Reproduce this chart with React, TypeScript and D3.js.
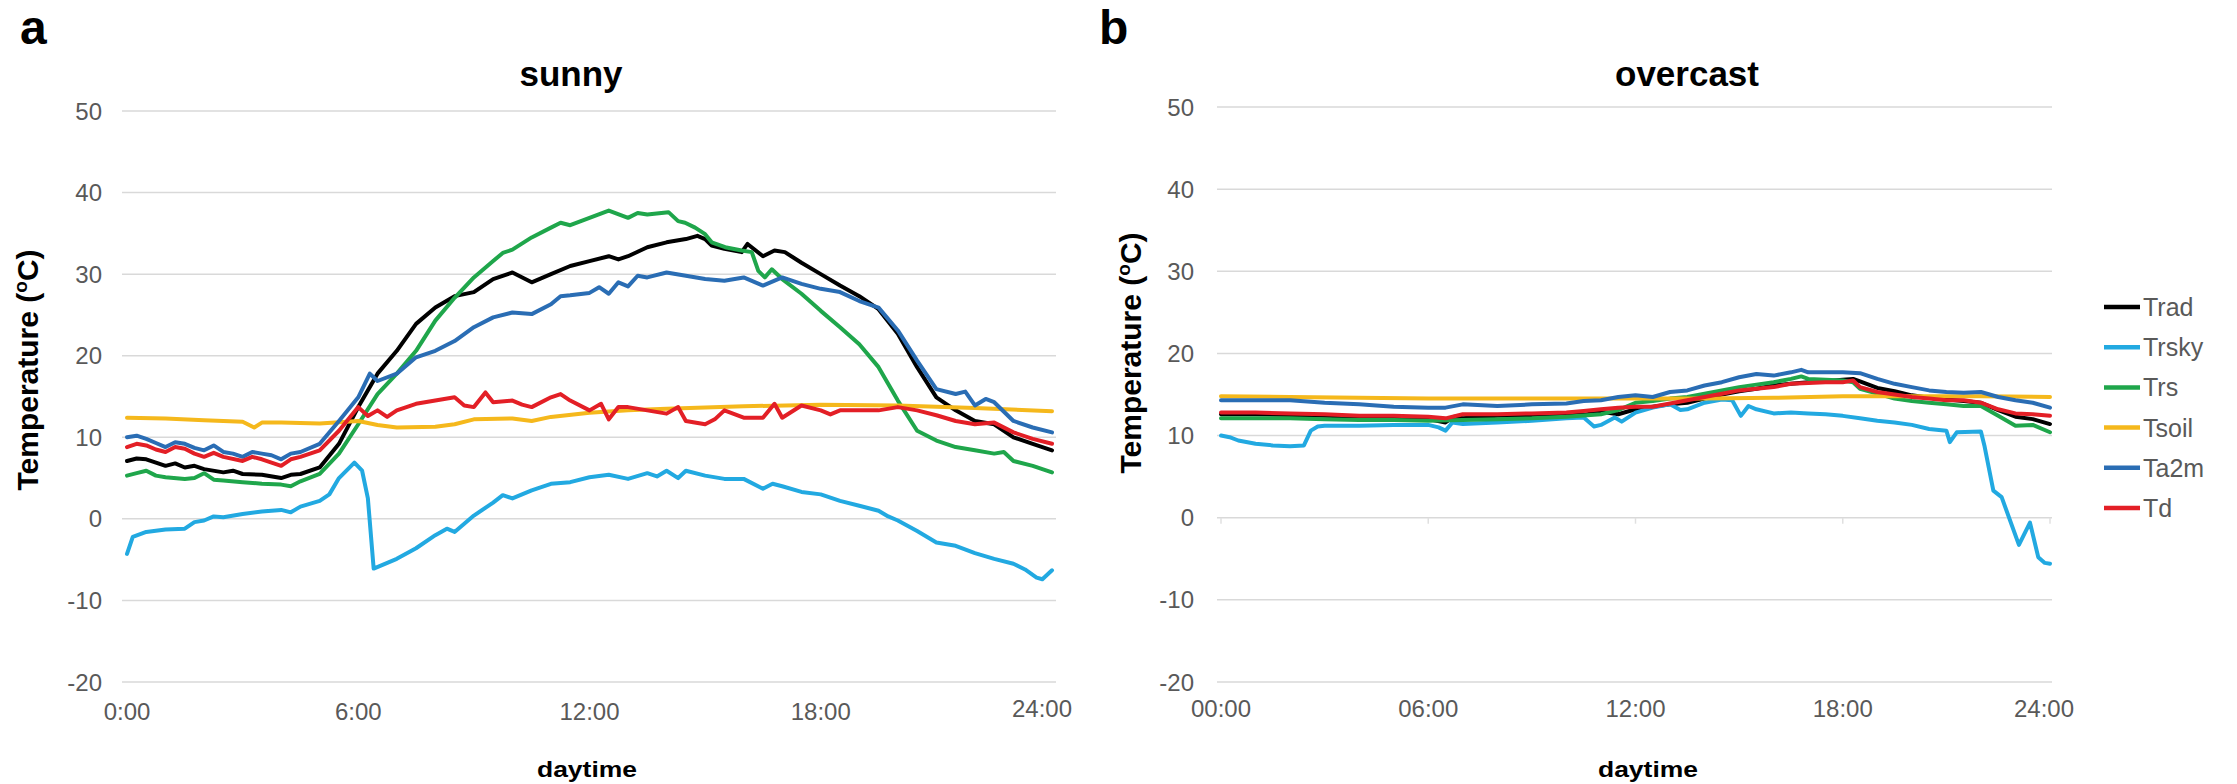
import React from 'react';
import * as d3 from 'd3';

type P = [number, number];

const SERIES = ['Trad', 'Trsky', 'Trs', 'Tsoil', 'Ta2m', 'Td'];
const COLORS = ['#000000', '#22a9e1', '#1fa64b', '#f5b81c', '#2a6db4', '#e31f26'];
const Y_TICKS = [-20, -10, 0, 10, 20, 30, 40, 50];
const X_TICK_HOURS = [0, 6, 12, 18, 24];
const X_LABELS_A = ['0:00', '6:00', '12:00', '18:00', '24:00'];
const X_LABELS_B = ['00:00', '06:00', '12:00', '18:00', '24:00'];

// ---- panel a: sunny ----
const sunnyTrad: P[] = [[0,7.1],[0.25,7.4],[0.5,7.3],[0.75,6.9],[1,6.5],[1.25,6.8],[1.5,6.3],[1.75,6.5],[2,6.1],[2.5,5.7],[2.75,5.9],[3,5.5],[3.5,5.4],[4,5.0],[4.25,5.4],[4.5,5.5],[5,6.3],[5.5,9.2],[6,13.7],[6.5,17.8],[7,20.6],[7.5,23.9],[8,25.9],[8.5,27.3],[9,27.8],[9.5,29.4],[10,30.2],[10.5,29.0],[11,30.0],[11.5,31.0],[12,31.6],[12.5,32.2],[12.75,31.8],[13,32.2],[13.5,33.3],[14,33.9],[14.5,34.3],[14.8,34.7],[15,34.3],[15.17,33.5],[15.5,33.1],[15.95,32.7],[16.1,33.7],[16.5,32.2],[16.8,32.9],[17.07,32.7],[17.5,31.4],[18,30.0],[18.5,28.6],[19,27.3],[19.5,25.7],[20,22.7],[20.5,18.6],[21,14.9],[21.5,13.3],[22,12.0],[22.5,11.6],[23,10.0],[23.5,9.2],[24,8.4]];
const sunnyTrsky: P[] = [[0,-4.3],[0.15,-2.2],[0.5,-1.6],[1,-1.3],[1.5,-1.2],[1.75,-0.4],[2,-0.2],[2.25,0.3],[2.5,0.2],[3,0.6],[3.5,0.9],[4,1.1],[4.25,0.8],[4.5,1.5],[5,2.2],[5.25,3.0],[5.5,5.0],[5.9,6.9],[6.1,5.9],[6.25,2.5],[6.4,-6.1],[7,-4.9],[7.5,-3.6],[8,-2.0],[8.3,-1.2],[8.5,-1.6],[9,0.4],[9.5,2.0],[9.75,2.9],[10,2.5],[10.5,3.5],[11,4.3],[11.5,4.5],[12,5.1],[12.5,5.4],[13,4.9],[13.5,5.6],[13.75,5.2],[14,5.9],[14.3,5.0],[14.5,5.9],[15,5.3],[15.5,4.9],[16,4.9],[16.5,3.7],[16.75,4.3],[17,4.0],[17.5,3.3],[18,3.0],[18.5,2.2],[19,1.6],[19.5,1.0],[19.75,0.3],[20,-0.2],[20.5,-1.5],[21,-2.9],[21.5,-3.3],[22,-4.2],[22.5,-4.9],[23,-5.5],[23.3,-6.2],[23.6,-7.2],[23.75,-7.4],[24,-6.3]];
const sunnyTrs: P[] = [[0,5.3],[0.25,5.6],[0.5,5.9],[0.75,5.3],[1,5.1],[1.5,4.9],[1.75,5.0],[2,5.6],[2.25,4.8],[2.5,4.7],[3,4.5],[3.5,4.3],[4,4.2],[4.25,4.0],[4.5,4.6],[5,5.5],[5.5,8.0],[6,11.6],[6.5,15.3],[7,17.8],[7.5,20.6],[8,24.3],[8.5,27.1],[9,29.6],[9.5,31.6],[9.75,32.6],[10,33.0],[10.5,34.5],[11,35.7],[11.25,36.3],[11.5,36.0],[12,36.9],[12.5,37.8],[13,36.9],[13.25,37.5],[13.5,37.3],[14.05,37.6],[14.3,36.5],[14.48,36.3],[14.74,35.7],[15,34.9],[15.17,33.9],[15.52,33.3],[15.95,32.9],[16.21,32.7],[16.38,30.4],[16.55,29.6],[16.73,30.6],[17,29.4],[17.5,27.6],[18,25.5],[18.5,23.5],[19,21.4],[19.5,18.6],[20,14.5],[20.5,10.8],[21,9.6],[21.5,8.8],[22,8.4],[22.5,8.0],[22.75,8.2],[23,7.1],[23.5,6.5],[24,5.7]];
const sunnyTsoil: P[] = [[0,12.4],[1,12.3],[2,12.1],[3,11.9],[3.3,11.2],[3.5,11.8],[4,11.8],[5,11.7],[6,12.0],[6.5,11.5],[7,11.2],[8,11.3],[8.5,11.6],[9,12.2],[10,12.3],[10.5,12.0],[11,12.5],[12,13.0],[13,13.3],[14,13.5],[16,13.8],[18,14.0],[20,13.9],[22,13.6],[24,13.2]];
const sunnyTa2m: P[] = [[0,10.0],[0.25,10.2],[0.5,9.8],[0.75,9.3],[1,8.8],[1.25,9.4],[1.5,9.2],[1.75,8.7],[2,8.4],[2.25,9.0],[2.5,8.2],[2.75,8.0],[3,7.6],[3.25,8.2],[3.5,8.0],[3.75,7.8],[4,7.3],[4.25,8.0],[4.5,8.2],[5,9.2],[5.5,12.0],[6,14.9],[6.3,17.8],[6.5,16.9],[7,17.8],[7.5,19.8],[8,20.6],[8.5,21.8],[9,23.5],[9.5,24.7],[10,25.3],[10.5,25.1],[11,26.3],[11.25,27.3],[11.5,27.4],[12,27.7],[12.25,28.4],[12.5,27.6],[12.75,29.0],[13,28.5],[13.25,29.8],[13.5,29.6],[14,30.2],[14.5,29.8],[15,29.4],[15.5,29.2],[16,29.6],[16.5,28.6],[17,29.6],[17.5,28.8],[18,28.2],[18.5,27.8],[19,26.7],[19.5,25.9],[20,23.1],[20.5,19.4],[21,15.9],[21.5,15.3],[21.75,15.6],[22,13.9],[22.28,14.7],[22.5,14.3],[23,12.0],[23.5,11.2],[24,10.6]];
const sunnyTd: P[] = [[0,8.8],[0.25,9.2],[0.5,9.0],[0.75,8.5],[1,8.2],[1.25,8.8],[1.5,8.6],[1.75,8.0],[2,7.6],[2.25,8.1],[2.5,7.6],[3,7.1],[3.25,7.6],[3.5,7.3],[4,6.5],[4.25,7.3],[4.5,7.6],[5,8.4],[5.5,10.8],[6,13.7],[6.25,12.6],[6.5,13.3],[6.75,12.5],[7,13.3],[7.5,14.1],[8,14.5],[8.5,14.9],[8.75,13.9],[9,13.7],[9.3,15.5],[9.5,14.3],[10,14.5],[10.25,14.0],[10.5,13.7],[11,14.9],[11.25,15.3],[11.5,14.5],[12,13.3],[12.3,14.1],[12.5,12.2],[12.75,13.7],[13,13.7],[13.5,13.3],[14,12.9],[14.3,13.7],[14.5,12.0],[15,11.6],[15.25,12.2],[15.5,13.3],[16,12.4],[16.5,12.4],[16.8,14.1],[17,12.4],[17.5,13.9],[18,13.3],[18.25,12.8],[18.5,13.3],[19,13.3],[19.5,13.3],[20,13.7],[20.5,13.3],[21,12.7],[21.5,12.0],[22,11.6],[22.5,11.8],[23,10.6],[23.5,9.8],[24,9.2]];

// ---- panel b: overcast ----
const ocTrad: P[] = [[0,12.6],[1,12.6],[2,12.5],[3,12.4],[4,12.3],[5,12.2],[6,12.0],[6.5,11.6],[6.75,12.3],[7,12.1],[8,12.4],[9,12.5],[10,12.6],[10.5,12.5],[11,12.9],[11.5,12.6],[12,13.2],[12.5,13.5],[13,13.8],[13.5,14.0],[14,14.5],[14.5,15.0],[15,15.4],[15.5,15.7],[16,16.1],[16.5,16.3],[17,16.5],[17.5,16.6],[18,16.8],[18.3,16.9],[18.5,16.6],[19,15.8],[19.5,15.4],[20,14.9],[20.5,14.6],[21,14.4],[21.5,14.2],[22,14.0],[22.5,13.1],[23,12.3],[23.5,12.0],[24,11.4]];
const ocTrsky: P[] = [[0,10.0],[0.25,9.8],[0.5,9.4],[1,9.0],[1.5,8.8],[2,8.7],[2.4,8.8],[2.6,10.6],[2.8,11.1],[3,11.2],[4,11.2],[5,11.3],[6,11.3],[6.3,11.0],[6.5,10.6],[6.7,11.6],[7,11.4],[8,11.6],[9,11.8],[10,12.1],[10.5,12.2],[10.8,11.1],[11,11.3],[11.4,12.2],[11.6,11.7],[12,12.8],[12.5,13.4],[13,13.8],[13.3,13.1],[13.5,13.2],[14,14.0],[14.5,14.4],[14.8,14.3],[15.05,12.4],[15.27,13.6],[15.5,13.2],[16,12.7],[16.5,12.8],[17,12.7],[17.5,12.6],[18,12.4],[18.5,12.1],[19,11.8],[19.5,11.6],[20,11.3],[20.5,10.8],[21,10.6],[21.1,9.2],[21.3,10.4],[22,10.5],[22.1,8.8],[22.36,3.3],[22.6,2.5],[23.1,-3.3],[23.42,-0.6],[23.66,-4.8],[23.85,-5.5],[24,-5.6]];
const ocTrs: P[] = [[0,12.1],[1,12.1],[2,12.1],[3,12.0],[4,11.9],[5,11.9],[6,11.8],[7,11.9],[8,12.0],[9,12.1],[10,12.3],[11,12.6],[11.5,13.1],[12,14.0],[12.5,14.2],[13,14.5],[13.5,14.7],[14,15.1],[14.5,15.5],[15,15.9],[15.5,16.2],[16,16.5],[16.5,16.9],[16.8,17.2],[17,16.9],[17.5,16.8],[18,16.7],[18.3,16.5],[18.5,15.7],[19,15.1],[19.5,14.5],[20,14.2],[20.5,14.0],[21,13.8],[21.5,13.6],[22,13.6],[22.5,12.4],[23,11.2],[23.5,11.3],[24,10.4]];
const ocTsoil: P[] = [[0,14.8],[2,14.7],[4,14.6],[6,14.5],[8,14.5],[10,14.5],[12,14.5],[14,14.5],[16,14.6],[18,14.8],[20,14.8],[22,14.8],[24,14.7]];
const ocTa2m: P[] = [[0,14.3],[1,14.3],[2,14.3],[3,14.0],[4,13.8],[5,13.5],[6,13.4],[6.5,13.4],[7,13.8],[8,13.6],[9,13.8],[10,13.9],[10.5,14.2],[11,14.3],[11.5,14.7],[12,14.9],[12.5,14.7],[13,15.3],[13.5,15.5],[14,16.1],[14.5,16.5],[15,17.1],[15.5,17.5],[16,17.3],[16.5,17.7],[16.8,18.0],[17,17.7],[17.5,17.7],[18,17.7],[18.5,17.6],[19,16.9],[19.5,16.3],[20,15.9],[20.5,15.5],[21,15.3],[21.5,15.2],[22,15.3],[22.5,14.7],[23,14.3],[23.5,14.0],[24,13.4]];
const ocTd: P[] = [[0,12.8],[1,12.8],[2,12.7],[3,12.6],[4,12.4],[5,12.4],[6,12.3],[6.5,12.1],[7,12.6],[8,12.6],[9,12.7],[10,12.8],[10.5,13.0],[11,13.2],[11.5,13.4],[12,13.5],[12.5,13.5],[13,13.9],[13.5,14.3],[14,14.7],[14.5,15.1],[15,15.5],[15.5,15.7],[16,15.9],[16.5,16.3],[17,16.4],[17.5,16.5],[18,16.5],[18.3,16.7],[18.5,15.9],[19,15.3],[19.5,15.0],[20,14.7],[20.5,14.5],[21,14.3],[21.5,14.3],[22,14.0],[22.5,13.2],[23,12.7],[23.5,12.6],[24,12.4]];

const SUNNY = [sunnyTrad, sunnyTrsky, sunnyTrs, sunnyTsoil, sunnyTa2m, sunnyTd];
const OVERCAST = [ocTrad, ocTrsky, ocTrs, ocTsoil, ocTa2m, ocTd];

const FONT = '"Liberation Sans", Arial, sans-serif';
const GRAY = '#595959';

interface PanelProps {
  letter: string;
  letterX: number;
  title: string;
  titleX: number;
  data: P[][];
  x0: number; x1: number;
  yTop: number; yBot: number;
  gridX0: number; gridX1: number;
  yLabelX: number;
  xLabels: string[];
  xLabelY: number;
  lastLabelDx: number;
  lastLabelDy: number;
  yTitleX: number; yTitleY: number;
  xTitleX: number;
  ticks: boolean;
}

function Panel(p: PanelProps) {
  const x = d3.scaleLinear().domain([0, 24]).range([p.x0, p.x1]);
  const y = d3.scaleLinear().domain([-20, 50]).range([p.yBot, p.yTop]);
  const line = d3.line<P>().x(d => x(d[0])).y(d => y(d[1]));
  return (
    <g>
      <text x={p.letterX} y={44} fontFamily={FONT} fontWeight="bold" fontSize={48} fill="#000">{p.letter}</text>
      <text x={p.titleX} y={86} textAnchor="middle" fontFamily={FONT} fontWeight="bold" fontSize={35} fill="#000">{p.title}</text>
      {Y_TICKS.map(t => (
        <g key={t}>
          <line x1={p.gridX0} x2={p.gridX1} y1={y(t)} y2={y(t)} stroke="#d9d9d9" strokeWidth={1.5} />
          <text x={p.yLabelX} y={y(t)} dy="0.36em" textAnchor="end" fontFamily={FONT} fontSize={24} fill={GRAY}>{t}</text>
        </g>
      ))}
      {p.ticks && X_TICK_HOURS.map(h => (
        <line key={'t' + h} x1={x(h)} x2={x(h)} y1={y(0)} y2={y(0) + 6} stroke="#e0e0e0" strokeWidth={1.5} />
      ))}
      {X_TICK_HOURS.map((h, i) => (
        <text key={'x' + h}
          x={x(h) + (i === X_TICK_HOURS.length - 1 ? p.lastLabelDx : 0)}
          y={p.xLabelY + (i === X_TICK_HOURS.length - 1 ? p.lastLabelDy : 0)}
          textAnchor="middle" fontFamily={FONT} fontSize={24} fill={GRAY}>{p.xLabels[i]}</text>
      ))}
      {p.data.map((s, i) => (
        <path key={SERIES[i]} d={line(s) || ''} fill="none" stroke={COLORS[i]} strokeWidth={4} strokeLinejoin="round" strokeLinecap="round" />
      ))}
      <text transform={`translate(${p.yTitleX},${p.yTitleY}) rotate(-90)`} textAnchor="middle" fontFamily={FONT} fontWeight="bold" fontSize={30} fill="#000">
        Temperature (<tspan fontSize={19} dy={-11}>o</tspan><tspan dy={11}>C)</tspan>
      </text>
      <text x={p.xTitleX} y={777} textAnchor="middle" fontFamily={FONT} fontWeight="bold" fontSize={22} textLength={100} lengthAdjust="spacingAndGlyphs" fill="#000">daytime</text>
    </g>
  );
}

export default function App() {
  return (
    <svg width={2237} height={784} style={{ position: 'absolute', left: 0, top: 0, background: '#fff' }}>
      <rect width={2237} height={784} fill="#fff" />
      <Panel letter="a" letterX={20} title="sunny" titleX={571} data={SUNNY}
        x0={127} x1={1052} yTop={111} yBot={682} gridX0={122} gridX1={1056}
        yLabelX={102} xLabels={X_LABELS_A} xLabelY={720} lastLabelDx={-10} lastLabelDy={-3}
        yTitleX={38} yTitleY={370} xTitleX={587} ticks={false} />
      <Panel letter="b" letterX={1099} title="overcast" titleX={1687} data={OVERCAST}
        x0={1221} x1={2050} yTop={107} yBot={682} gridX0={1217} gridX1={2052}
        yLabelX={1194} xLabels={X_LABELS_B} xLabelY={717} lastLabelDx={-6} lastLabelDy={0}
        yTitleX={1141} yTitleY={353} xTitleX={1648} ticks={true} />
      <g>
        {SERIES.map((s, i) => (
          <g key={s} transform={`translate(0,${307 + i * 40.2})`}>
            <line x1={2104} x2={2140} y1={0} y2={0} stroke={COLORS[i]} strokeWidth={4.5} />
            <text x={2143} y={0} dy="0.36em" fontFamily={FONT} fontSize={25} fill={GRAY}>{s}</text>
          </g>
        ))}
      </g>
    </svg>
  );
}
